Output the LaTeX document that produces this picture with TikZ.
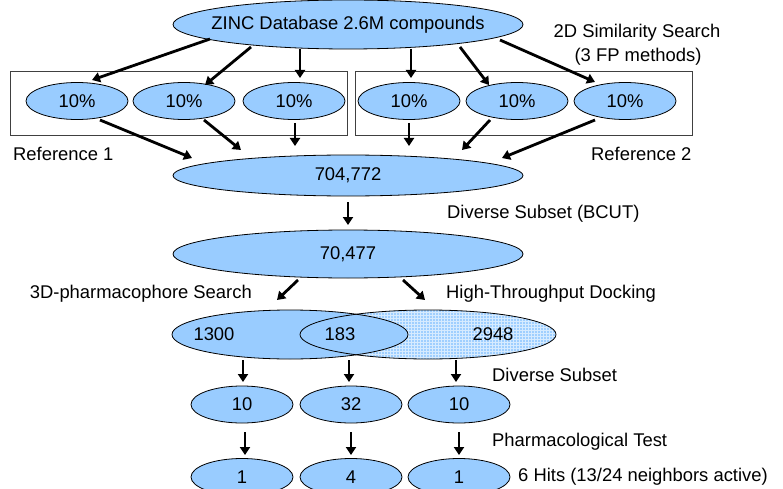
\documentclass[tikz,border=0pt]{standalone}
\usepackage{fontspec}
\setmainfont{Liberation Sans}
\usetikzlibrary{shapes.geometric,arrows.meta,calc,patterns}
\definecolor{cblue}{HTML}{99CCFF}
\definecolor{clight}{HTML}{9FCFFF}
\definecolor{cgrid}{HTML}{D6EBFF}
\begin{document}
\begin{tikzpicture}[x=1pt,y=-1pt,
  ell/.style={ellipse, draw=black, line width=0.8pt, fill=cblue, inner sep=0pt},
  bigell/.style={ell, minimum width=350pt, minimum height=49pt},
  smallell/.style={ell, minimum width=102pt, minimum height=37pt, font=\fontsize{18.4}{22}\selectfont},
  txt/.style={font=\fontsize{18.4}{22}\selectfont, inner sep=0pt},
  arr/.style={line width=2.8pt, -{Triangle[length=8pt,width=10pt]}},
  boxline/.style={draw=black!75, line width=1pt}]
\useasboundingbox (0,0) rectangle (783,489);
\fill[white] (0,0) rectangle (783,489);

% boxes
\draw[boxline] (10,72) rectangle (347,136);
\draw[boxline] (355,72) rectangle (692,136);

% top
\node[bigell] (T) at (348,24.5) {};
\node[txt] (Tt) at (T.center) {ZINC Database 2.6M compounds};

% row 1
\node[smallell] (R1) at (77,101) {10\%};
\node[smallell] (R2) at (184,101) {10\%};
\node[smallell] (R3) at (294,101) {10\%};
\node[smallell] (R4) at (409,101) {10\%};
\node[smallell] (R5) at (517,101) {10\%};
\node[smallell] (R6) at (625,101) {10\%};

% merged
\node[ell, minimum width=350pt, minimum height=41pt, font=\fontsize{18.4}{22}\selectfont] (P) at (348,175.5) {704,772};
\node[ell, minimum width=350pt, minimum height=48pt, font=\fontsize{18.4}{22}\selectfont] (Q) at (348,254) {70,477};

% venn
\node[ellipse, inner sep=0pt, minimum width=256pt, minimum height=49pt, fill=clight,
      postaction={pattern=grid, pattern color=cgrid}] (Rv) at (428,334.5) {};
\node[ellipse, inner sep=0pt, minimum width=236pt, minimum height=49pt, fill=cblue] (L) at (290,334.5) {};
\draw[line width=0.8pt] (Rv.center) ellipse [x radius=128, y radius=24.5];
\draw[line width=0.8pt] (L.center) ellipse [x radius=118, y radius=24.5];
\node[txt] (n1300) at (214,334.5) {1300};
\node[txt] (n183) at (340,334.5) {183};
\node[txt] (n2948) at (493,334.5) {2948};

% row 2 and 3
\node[smallell] (S1) at (242,404.5) {10};
\node[smallell] (S2) at (351,404.5) {32};
\node[smallell] (S3) at (459,404.5) {10};
\node[smallell] (H1) at (242,477) {1};
\node[smallell] (H2) at (351,477) {4};
\node[smallell] (H3) at (459,477) {1};

% labels
\node[txt, anchor=west] (ref1) at (13,154) {Reference 1};
\node[txt, anchor=west] (ref2) at (591,154) {Reference 2};
\node[txt] (sim1) at (637,33) {2D Similarity Search};
\node[txt] (sim2) at (638,57) {(3 FP methods)};
\node[txt, anchor=west] (bcut) at (447,214) {Diverse Subset (BCUT)};
\node[txt, anchor=east] (ph) at (252,294) {3D-pharmacophore Search};
\node[txt, anchor=west] (htd) at (446,294) {High-Throughput Docking};
\node[txt, anchor=west] (ds) at (492,375) {Diverse Subset};
\node[txt, anchor=west] (pt) at (492,442) {Pharmacological Test};
\node[txt, anchor=west] (hits) at (518,477) {6 Hits (13/24 neighbors active)};

% arrows top -> row1
\draw[arr] ($(T.center)+(-138,14.5)$) -- ($(R1.center)+(15,-21)$);
\draw[arr] ($(T.center)+(-97,22.5)$) -- ($(R2.center)+(21,-16)$);
\draw[arr] ($(T.center)+(-48,24.5)$) -- ($(R3.center)+(6,-23)$);
\draw[arr] ($(T.center)+(63,24.5)$) -- ($(R4.center)+(2,-23)$);
\draw[arr] ($(T.center)+(112,22.5)$) -- ($(R5.center)+(-28,-16)$);
\draw[arr] ($(T.center)+(152,15.5)$) -- ($(R6.center)+(-30,-19)$);

% row1 -> P
\draw[arr] ($(R1.center)+(23,19)$) -- ($(P.center)+(-156,-17.5)$);
\draw[arr] ($(R2.center)+(20,19)$) -- ($(P.center)+(-107,-25.5)$);
\draw[arr] ($(R3.center)+(1,22)$) -- ($(P.center)+(-53,-29.5)$);
\draw[arr] ($(R4.center)+(0,22)$) -- ($(P.center)+(61,-29.5)$);
\draw[arr] ($(R5.center)+(-27,19)$) -- ($(P.center)+(114,-25.5)$);
\draw[arr] ($(R6.center)+(-30,19)$) -- ($(P.center)+(154,-17.5)$);

% P -> Q
\draw[arr] ($(P.center)+(0,26.5)$) -- ($(Q.center)+(0,-29)$);

% Q -> venn
\draw[arr] ($(Q.center)+(-50,26)$) -- ($(L.center)+(-13,-34.5)$);
\draw[arr] ($(Q.center)+(55,26)$) -- ($(Rv.center)+(-3,-34.5)$);

% venn -> row2
\draw[arr] ($(L.center)+(-47,25.5)$) -- ($(S1.center)+(1,-22.5)$);
\draw[arr] ($(L.center)+(59,25.5)$) -- ($(S2.center)+(-2,-22.5)$);
\draw[arr] ($(Rv.center)+(28,25.5)$) -- ($(S3.center)+(-3,-22.5)$);

% row2 -> row3
\draw[arr] ($(S1.center)+(3,27.5)$) -- ($(H1.center)+(3,-22)$);
\draw[arr] ($(S2.center)+(0,27.5)$) -- ($(H2.center)+(0,-22)$);
\draw[arr] ($(S3.center)+(0,27.5)$) -- ($(H3.center)+(0,-22)$);
\end{tikzpicture}
\end{document}
